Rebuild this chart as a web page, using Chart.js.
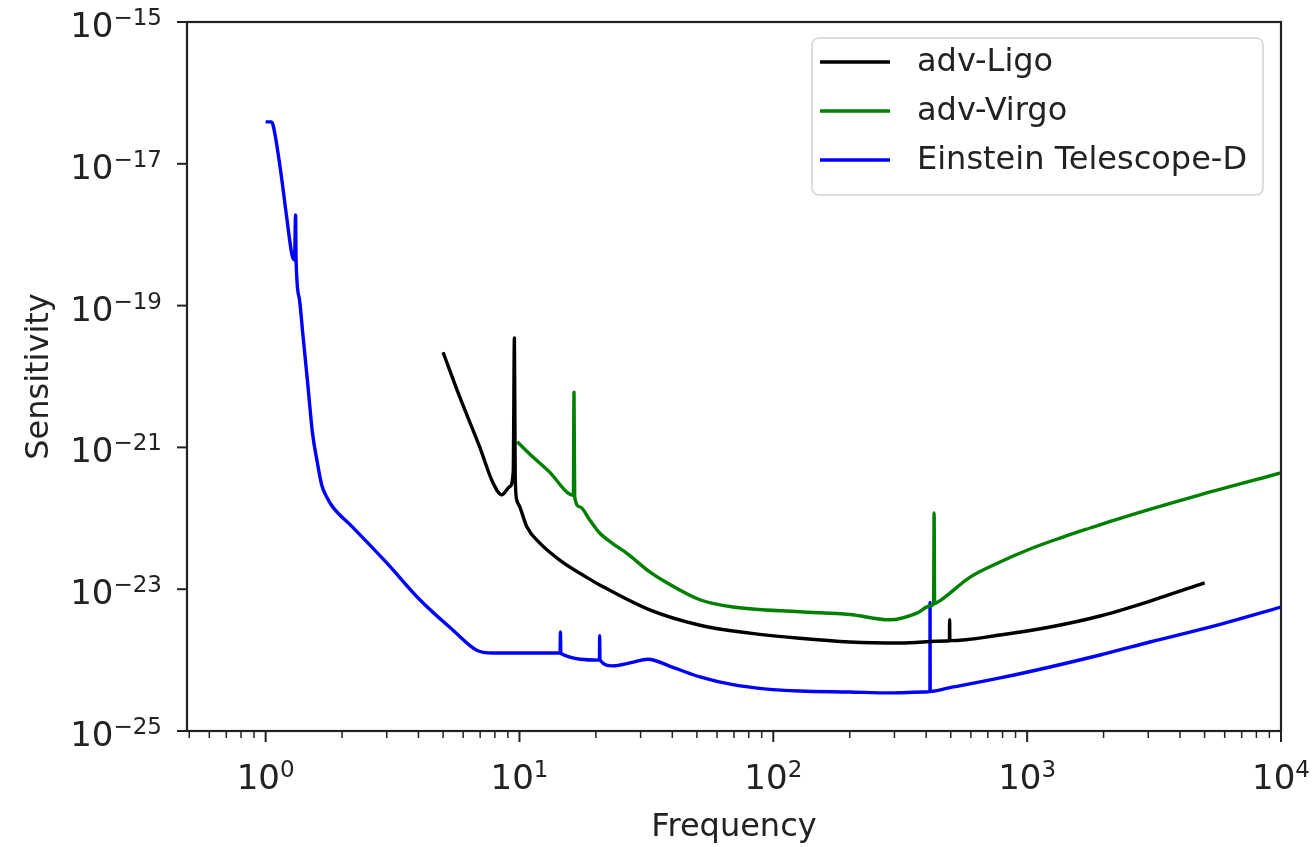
<!DOCTYPE html>
<html>
<head>
<meta charset="utf-8">
<script src="https://cdn.jsdelivr.net/npm/chart.js"></script>
<style>
  html, body { margin: 0; padding: 0; background: #fff; }
  #wrap { width: 1314px; height: 847px; }
</style>
</head>
<body>
<div id="wrap"><canvas id="sens" width="1314" height="847"></canvas></div>
<script>
// adv-Ligo
const ligoFreq = [5, 5.82, 6.98, 7.85, 8.51, 9.16, 9.45, 9.55, 9.62, 9.76, 10.03, 10.69, 12.0, 14.4, 18.4, 20.7, 32.6, 51.4, 80.9, 127, 200, 315, 479, 494, 495, 496, 782, 1231, 1937, 3050, 5000];
const ligoSens = [2.2e-20, 5.1e-21, 1.0e-21, 3.2e-22, 2.14e-22, 2.8e-22, 4.5e-22, 3.5e-20, 4.0e-22, 1.8e-22, 1.45e-22, 7.6e-23, 4.5e-23, 2.58e-23, 1.47e-23, 1.15e-23, 5.1e-24, 3.1e-24, 2.4e-24, 2.03e-24, 1.8e-24, 1.74e-24, 1.86e-24, 1.87e-24, 3.7e-24, 1.88e-24, 2.26e-24, 2.93e-24, 4.19e-24, 6.8e-24, 1.23e-23];

// adv-Virgo
const virgoFreq = [9.8, 11.3, 13.2, 15.5, 16.3, 16.4, 16.5, 17.3, 18.9, 20.7, 23.3, 26.5, 32.6, 38.1, 51.4, 69.3, 127, 200, 288, 368, 414, 428, 430, 432, 454, 596, 782, 1026, 1348, 1770, 2323, 4800, 10000];
const virgoSens = [1.2e-21, 7.3e-22, 4.4e-22, 2.28e-22, 2.1e-22, 6.0e-21, 2.0e-22, 1.45e-22, 9.5e-23, 6.2e-23, 4.4e-23, 3.2e-23, 1.75e-23, 1.23e-23, 7.1e-24, 5.6e-24, 4.8e-24, 4.4e-24, 3.7e-24, 4.6e-24, 5.8e-24, 6.2e-24, 1.19e-22, 6.3e-24, 6.9e-24, 1.48e-23, 2.42e-23, 3.69e-23, 5.27e-23, 7.3e-23, 1.0e-22, 2.14e-22, 4.36e-22];

// Einstein Telescope-D
const etFreq = [1.0, 1.05, 1.07, 1.14, 1.21, 1.27, 1.30, 1.312, 1.318, 1.36, 1.40, 1.464, 1.53, 1.60, 1.663, 1.74, 1.837, 2.2, 3.0, 4.05, 5.46, 6.79, 7.85, 10, 14.45, 14.5, 14.55, 20.65, 20.7, 20.75, 23.3, 27.5, 32, 40.2, 51.4, 69.3, 94.3, 127, 200, 288, 396, 414, 414.5, 415, 497, 782, 1230, 1937, 3050, 5760, 10000];
const etSens = [3.9e-17, 3.9e-17, 3.5e-17, 9.0e-18, 1.78e-18, 5.2e-19, 4.4e-19, 1.9e-18, 4.4e-19, 1.2e-19, 4.1e-20, 8.1e-21, 1.58e-21, 6.0e-22, 2.95e-22, 2.0e-22, 1.45e-22, 7.5e-23, 2.35e-23, 7.1e-24, 2.66e-24, 1.38e-24, 1.26e-24, 1.26e-24, 1.26e-24, 2.5e-24, 1.24e-24, 1.0e-24, 2.2e-24, 1.0e-24, 8.3e-25, 9.2e-25, 1.03e-24, 7.9e-25, 5.8e-25, 4.5e-25, 3.9e-25, 3.67e-25, 3.55e-25, 3.45e-25, 3.55e-25, 3.6e-25, 6.5e-24, 3.62e-25, 4.1e-25, 5.6e-25, 8.0e-25, 1.18e-24, 1.8e-24, 3.2e-24, 5.6e-24];

const xTicks = [1, 10, 100, 1000, 10000];
const yTicks = [1e-25, 1e-23, 1e-21, 1e-19, 1e-17, 1e-15];

const FONT = '"DejaVu Sans", sans-serif';
const TXT = '#222';

// "10" with a raised exponent, like matplotlib mathtext
function drawPow(ctx, align, x, base, v) {
  const e = Math.round(Math.log10(v));
  const big = '10', small = String(e).replace('-', '\u2212');
  ctx.font = '34px ' + FONT;
  const w1 = ctx.measureText(big).width;
  ctx.font = '23px ' + FONT;
  const w2 = ctx.measureText(small).width;
  const x0 = align === 'right' ? x - w1 - w2 : x - (w1 + w2) / 2;
  ctx.textAlign = 'left';
  ctx.textBaseline = 'alphabetic';
  ctx.fillStyle = TXT;
  ctx.font = '34px ' + FONT;
  ctx.fillText(big, x0, base);
  ctx.font = '23px ' + FONT;
  ctx.fillText(small, x0 + w1, base - 12);
}

function pts(xs, ys) {
  return xs.map((x, i) => ({x: x, y: ys[i]}));
}

// ticks, labels, frame and legend box like matplotlib
const axesDecor = {
  id: 'axesDecor',
  afterDraw(chart) {
    const {ctx, chartArea: a, scales} = chart;
    const xs = scales.x, ys = scales.y;
    ctx.save();
    ctx.strokeStyle = TXT;

    for (let d = -1; d <= 4; d++) {
      for (let k = 1; k <= 9; k++) {
        const v = k * Math.pow(10, d);
        if (v < xs.min || v > xs.max * 1.0001) continue;
        const px = xs.getPixelForValue(v);
        ctx.lineWidth = k === 1 ? 2 : 1.5;
        ctx.beginPath();
        ctx.moveTo(px, a.bottom);
        ctx.lineTo(px, a.bottom + (k === 1 ? 11 : 7));
        ctx.stroke();
      }
    }
    xTicks.forEach(v => drawPow(ctx, 'center', xs.getPixelForValue(v), a.bottom + 58, v));

    ctx.lineWidth = 2;
    yTicks.forEach(v => {
      const py = ys.getPixelForValue(v);
      ctx.beginPath();
      ctx.moveTo(a.left - 10, py);
      ctx.lineTo(a.left, py);
      ctx.stroke();
      drawPow(ctx, 'right', a.left - 25, py + 15, v);
    });

    ctx.lineWidth = 2.2;
    ctx.strokeRect(a.left, a.top, a.right - a.left, a.bottom - a.top);

    // legend
    const w = 451, h = 157;
    const lx = a.right - 18 - w, ly = a.top + 16;
    ctx.beginPath();
    ctx.roundRect(lx, ly, w, h, 7);
    ctx.fillStyle = 'rgba(255,255,255,0.8)';
    ctx.fill();
    ctx.strokeStyle = '#d4d4d4';
    ctx.lineWidth = 1.5;
    ctx.stroke();
    ctx.font = '32px ' + FONT;
    ctx.textBaseline = 'middle';
    ctx.textAlign = 'left';
    chart.data.datasets.forEach((ds, i) => {
      const y = ly + 24 + i * 49;
      ctx.strokeStyle = ds.borderColor;
      ctx.lineWidth = 3.4;
      ctx.beginPath();
      ctx.moveTo(lx + 8, y);
      ctx.lineTo(lx + 78, y);
      ctx.stroke();
      ctx.fillStyle = TXT;
      ctx.fillText(ds.label, lx + 105, y + 1);
    });
    ctx.restore();
  }
};

Chart.defaults.font.family = FONT;
Chart.defaults.font.size = 32;
Chart.defaults.color = TXT;

const line = {showLine: true, pointRadius: 0, borderWidth: 3.4, fill: false, cubicInterpolationMode: 'monotone', borderJoinStyle: 'round'};

new Chart(document.getElementById('sens'), {
  type: 'scatter',
  data: {
    datasets: [
      Object.assign({label: 'adv-Ligo', data: pts(ligoFreq, ligoSens), borderColor: '#000000'}, line),
      Object.assign({label: 'adv-Virgo', data: pts(virgoFreq, virgoSens), borderColor: '#008000'}, line),
      Object.assign({label: 'Einstein Telescope-D', data: pts(etFreq, etSens), borderColor: '#0000ff'}, line)
    ]
  },
  options: {
    responsive: false,
    animation: false,
    devicePixelRatio: 1,
    events: [],
    layout: { padding: {left: 0, right: 33, top: 22, bottom: 0} },
    plugins: {
      legend: { display: false },
      tooltip: { enabled: false }
    },
    scales: {
      x: {
        type: 'logarithmic',
        min: 0.49,
        max: 10000,
        bounds: 'data',
        afterBuildTicks: s => { s.ticks = xTicks.map(v => ({value: v})); },
        afterFit: s => { s.height = 116; s.paddingLeft = 0; s.paddingRight = 0; },
        grid: { display: false, drawTicks: false },
        border: { display: false },
        ticks: { display: false },
        title: { display: true, text: 'Frequency', padding: {top: 0, bottom: 0} }
      },
      y: {
        type: 'logarithmic',
        min: 1e-25,
        max: 1e-15,
        bounds: 'data',
        afterBuildTicks: s => { s.ticks = yTicks.map(v => ({value: v})); },
        afterFit: s => { s.width = 187; s.paddingTop = 0; s.paddingBottom = 0; },
        grid: { display: false, drawTicks: false },
        border: { display: false },
        ticks: { display: false },
        title: { display: true, text: 'Sensitivity', padding: {top: 20, bottom: 0} }
      }
    }
  },
  plugins: [axesDecor]
});
</script>
</body>
</html>
